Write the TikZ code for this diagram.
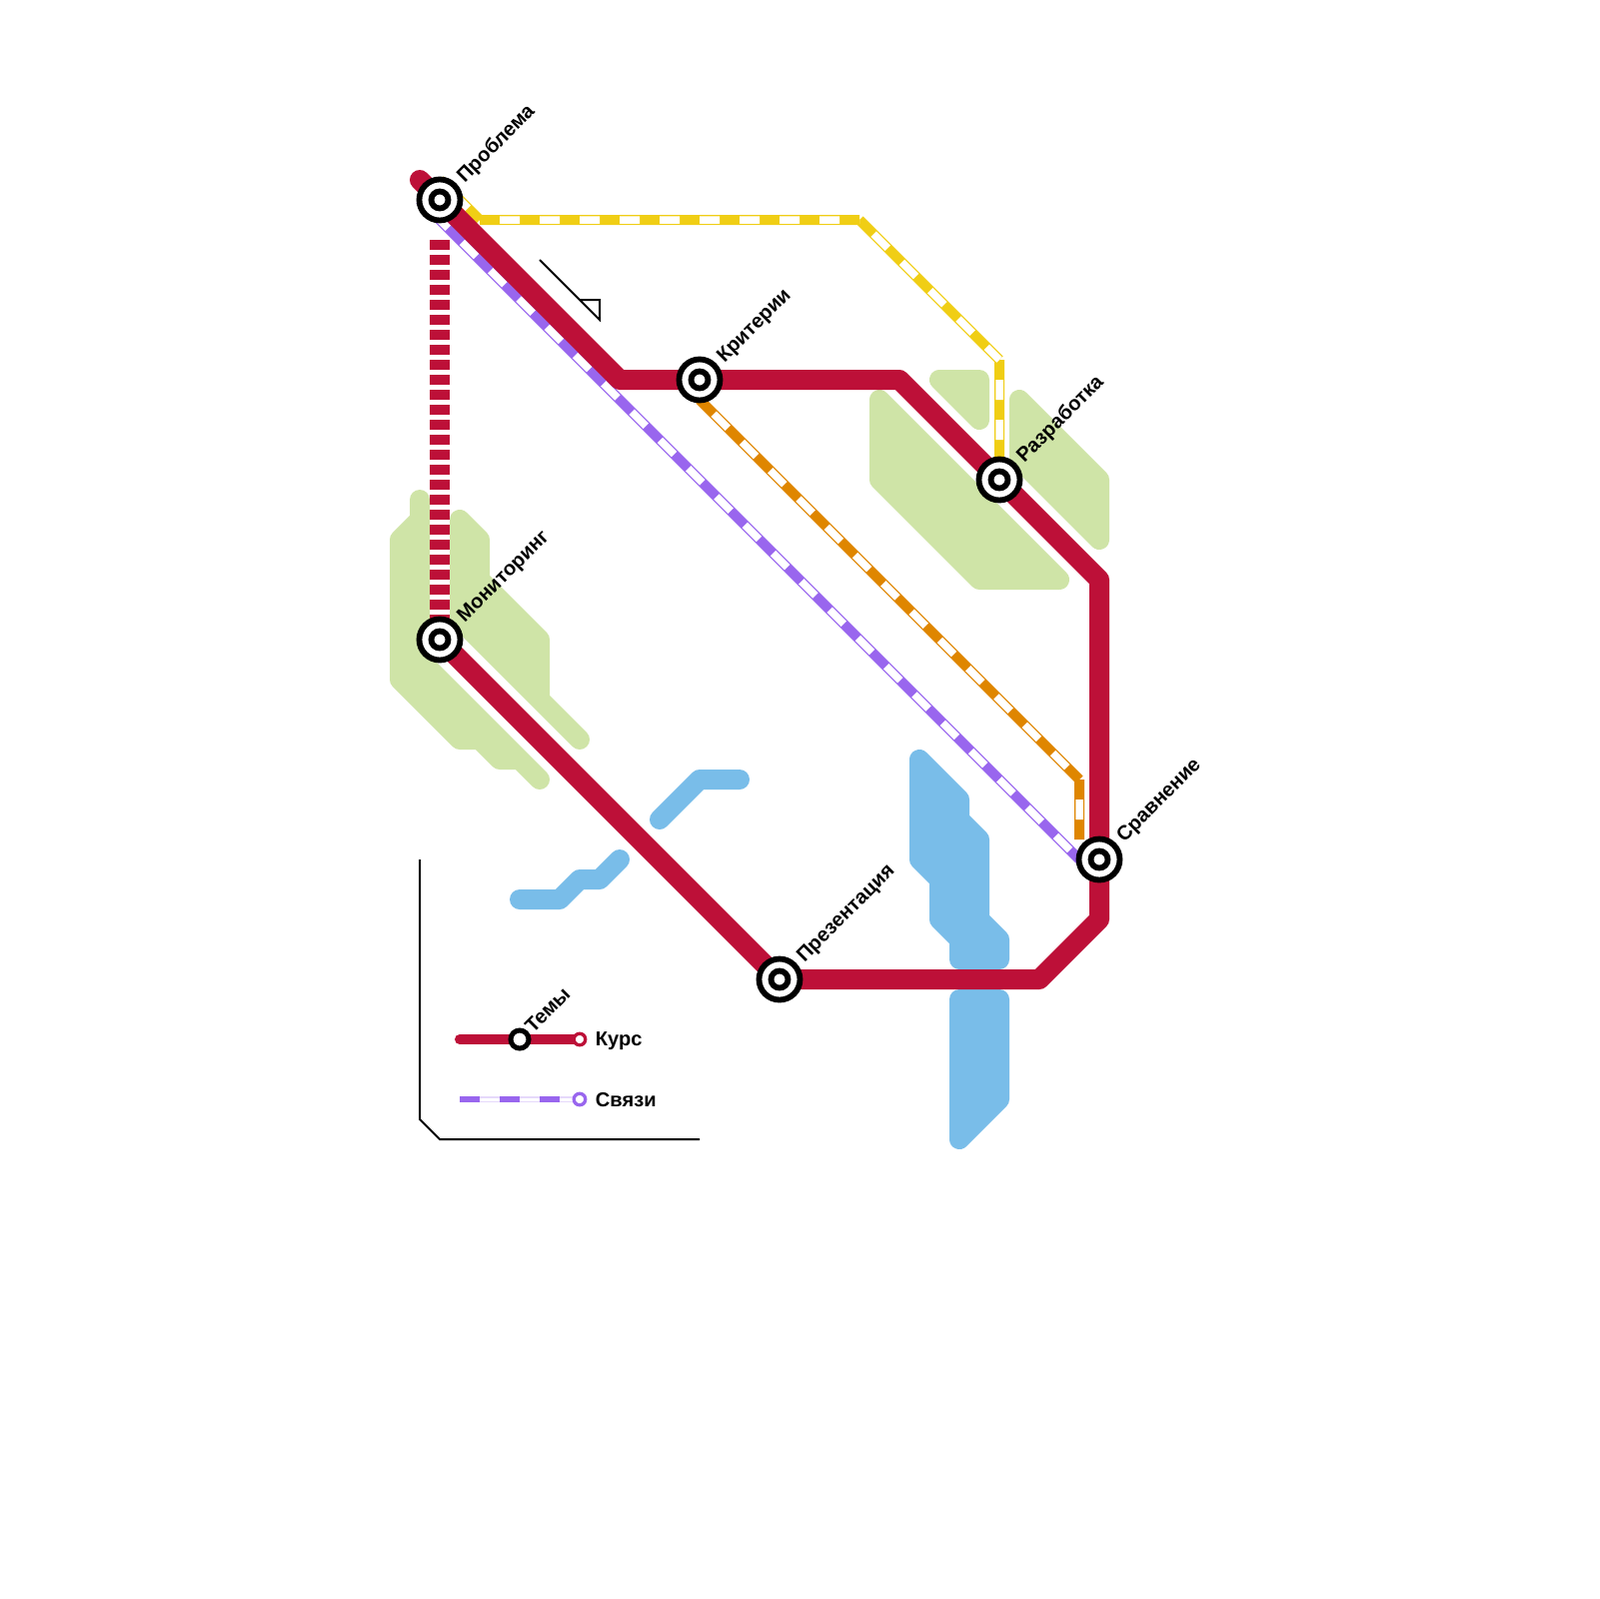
\documentclass[tikz,border=0pt]{standalone}
\usepackage{fontspec}
\setmainfont{Liberation Sans}
\definecolor{LineRed}   {HTML}{BD1038}
\definecolor{LineYellow}{HTML}{F0CE15}
\definecolor{LineOrange}{HTML}{DF8600}
\definecolor{LineViolet}{HTML}{9966EE}
\definecolor{ParkGreen} {HTML}{CFE4A7}
\definecolor{WaterBlue} {HTML}{79BDE9}
\usetikzlibrary{backgrounds,calc,positioning}

\begin{document}
\begin{tikzpicture}[x=0.1mm,y=-0.1mm,
  stn/.style={circle,draw=black,fill=white,line width=0.58mm,minimum size=4.1mm,
    inner sep=0pt,outer sep=0pt},
  stnsmall/.style={stn,line width=0.5mm,minimum size=1.8mm},
  lineend/.style={stn,line width=0.33mm,minimum size=1.15mm},
  lbl/.style={rotate=45,anchor=base west,inner sep=0pt,
    font=\bfseries\fontsize{5.72pt}{6pt}\selectfont},
  keytxt/.style={inner sep=0pt,text depth=0pt,font=\bfseries\fontsize{5.72pt}{6pt}\selectfont},
  park/.style={draw=ParkGreen,fill=ParkGreen,line width=2mm,line join=round},
  water/.style={draw=WaterBlue,fill=WaterBlue,line width=2mm,line join=round},
  river/.style={draw=WaterBlue,line width=2mm,line join=round,line cap=round},
  mainln/.style={draw=LineRed,line width=2mm,line join=round,line cap=round},
  branch/.style={line width=1mm,
    postaction={draw=white,line width=0.75mm,dash pattern=on 2mm off 2mm,dash phase=2mm}},
  thinln/.style={draw=black,line width=0.2mm}]
  \useasboundingbox (0,0) rectangle (1600,1600);
  \node[stn](PR) at (440,200) {};
  \node[stn](KR) at (700,380) {};
  \node[stn](RZ) at (1000,480) {};
  \node[stn](SR) at (1100,860) {};
  \node[stn](PZ) at (780,980) {};
  \node[stn](MN) at (440,640) {};
  \foreach \s in {PR,KR,RZ,SR,PZ,MN}
    \draw[line width=0.58mm] (\s) circle (0.85mm);
  \node[lbl](PRtxt) at ($(PR)+(24.5,-16)$) {Проблема};
  \node[lbl](KRtxt) at ($(KR)+(24.5,-16)$) {Критерии};
  \node[lbl](RZtxt) at ($(RZ)+(24.5,-16)$) {Разработка};
  \node[lbl](SRtxt) at ($(SR)+(24.5,-16)$) {Сравнение};
  \node[lbl](PZtxt) at ($(PZ)+(24.5,-16)$) {Презентация};
  \node[lbl](MNtxt) at ($(MN)+(24.5,-16)$) {Мониторинг};
  % Bends
  \coordinate (redA) at (420,180);
  \coordinate (redB) at (620,380);
  \coordinate (redC) at (900,380);
  \coordinate (redD) at (1100,580);
  \coordinate (redE) at (1100,920);
  \coordinate (redF) at (1040,980);
  \coordinate (redTop) at (440,240);
  \coordinate (yelA) at (440,180);
  \coordinate (yelB) at (480,220);
  \coordinate (yelC) at (860,220);
  \coordinate (yelD) at (1000,360);
  \coordinate (vioA) at (420,200);
  \coordinate (vioB) at (1080,860);
  \coordinate (oraA) at (700,400);
  \coordinate (oraB) at (1080,780);
  \coordinate (oraC) at (1080,840);
  \begin{scope}[on background layer]
    % Parks
    \draw[park] (420,500)--(420,660)--(540,780)--(520,760)--(500,760)--(480,740)
      --(460,740)--(400,680)--(400,540)--(420,520)--cycle;
    \draw[park] (460,520)--(480,540)--(480,580)--(540,640)--(540,700)--(580,740)
      --(460,620)--cycle;
    \draw[park] (880,400)--(880,480)--(980,580)--(1060,580)--cycle;
    \draw[park] (940,380)--(980,380)--(980,420)--cycle;
    \draw[park] (1020,400)--(1100,480)--(1100,540)--(1020,460)--cycle;
    % Water
    \draw[water] (920,760)--(920,860)--(940,880)--(940,920)--(960,940)--(960,960)
      --(1000,960)--(1000,940)--(980,920)--(980,840)--(960,820)--(960,800)--cycle;
    \draw[water] (960,1000)--(1000,1000)--(1000,1100)--(960,1140)--cycle;
    \draw[river] (520,900)--(560,900)--(580,880)--(600,880)--(620,860);
    \draw[river] (660,820)--(700,780)--(740,780);
    % Lines
    \draw[branch,draw=LineYellow] (yelA)--(yelB) (yelB)--(yelC) (yelC)--(yelD) (yelD)--(RZ);
    \draw[branch,draw=LineViolet] (vioA)--(vioB);
    \draw[branch,draw=LineOrange] (oraA)--(oraB) (oraB)--(oraC);
    \draw[draw=LineRed,line width=2mm,dash pattern=on 1mm off 0.5mm] (redTop)--(MN);
    \draw[mainln] (redA)--(PR)--(redB)--(KR)--(redC)--(RZ)--(redD)--(SR)--(redE)
      --(redF)--(PZ)--(MN);
  \end{scope}
  % Annotation
  \draw[thinln] (540,260)--(600,320)--(600,300)--(580,300);
  \draw[thinln] (420,860)--(420,1120)--(440,1140)--(700,1140);
  % Key
  \node[stnsmall](TM) at (520,1040) {};
  \node[lbl](TMtxt) at ($(TM)+(13,-5)$) {Темы};
  \node[lineend,draw=LineRed](keyRedB) at (580,1040) {};
  \node[lineend,draw=LineViolet](keyVioB) at (580,1100) {};
  \coordinate (keyRedA) at (460,1040);
  \coordinate (keyVioA) at (460,1100);
  \node[keytxt,right=0.95mm of keyRedB](keyRed) {Курс};
  \node[keytxt,right=0.95mm of keyVioB](keyVio) {Связи};
  \begin{scope}[on background layer]
    \draw[draw=LineRed,line width=1mm,line cap=round] (keyRedA)--(TM)--(keyRedB);
    \draw[draw=LineViolet!25,line width=0.6mm,
      postaction={draw=white,line width=0.3mm},
      postaction={draw=LineViolet,line width=0.6mm,dash pattern=on 2mm off 2mm}]
      (keyVioA)--(keyVioB);
  \end{scope}
\end{tikzpicture}
\end{document}
